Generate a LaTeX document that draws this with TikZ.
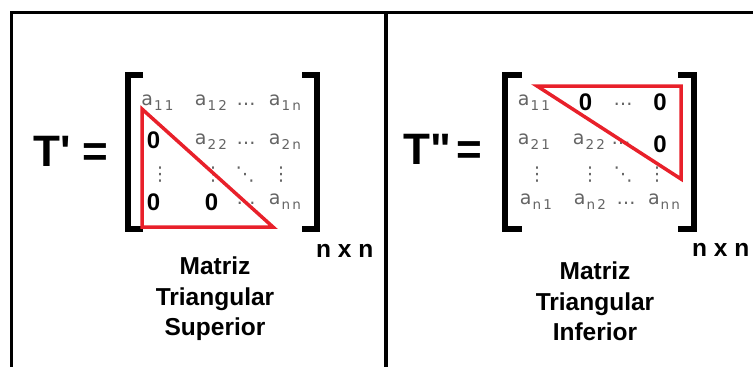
\documentclass[tikz,border=0pt]{standalone}
\usepackage{fontspec}
\usepackage{xcolor}
\usetikzlibrary{positioning}
\newfontfamily\headfont{Liberation Sans}[Ligatures=TeXOff]
\newfontfamily\entfont{DejaVu Sans}
\definecolor{TriRed}{HTML}{E8202A}
\definecolor{EntGray}{HTML}{646464}
\newcommand{\ent}[1]{a\kern1pt\raisebox{-5pt}{\fontsize{13.5}{13.5}\selectfont#1}}

\begin{document}
\begin{tikzpicture}[x=1pt,y=-1pt,
  head/.style={font=\headfont\bfseries\fontsize{44}{44}\selectfont,inner sep=0,anchor=base west},
  desc/.style={font=\headfont\bfseries\fontsize{24.5}{30.5}\selectfont,inner sep=0,align=center},
  size/.style={font=\headfont\bfseries\fontsize{24.5}{24.5}\selectfont,inner sep=0,anchor=base west},
  entry/.style={font=\entfont\fontsize{19}{19}\selectfont,text=EntGray,inner sep=0,anchor=base},
  zero/.style={font=\headfont\bfseries\fontsize{24}{24}\selectfont,inner sep=0,anchor=base},
  bracket/.style={line width=5.5pt},
  tri/.style={draw=TriRed,line width=3.5pt}]
\useasboundingbox (0,0) rectangle (753,367);

% frame
\draw[line width=3.5pt] (11.5,367) -- (11.5,12.5) -- (753,12.5);
\draw[line width=3.5pt] (386,12.5) -- (386,367);

% left panel: upper triangular
\node[head] (Tsup) at (33,166) {T' =};
\draw[bracket] (143,75) -- (128,75) -- (128,229) -- (143,229);
\draw[bracket] (302,75) -- (317,75) -- (317,229) -- (302,229);
\foreach \x/\y/\t [count=\i] in {157.5/105/\ent{1\,1},211/105/\ent{1\,2},246/105/…,285/105/\ent{1\,n},
  211/144/\ent{2\,2},246/144/…,285/144/\ent{2\,n},
  160/180/⋮,213/180/⋮,245/180/⋱,281/180/⋮,
  246/204/…,285/204/\ent{n\,n}}{
\node[entry] (sup\i) at (\x,\y) {\t};
}
\foreach \x/\y [count=\i] in {153.5/148,153.5/210,211.5/210}{
\node[zero] (supz\i) at (\x,\y) {0};
}
\draw[tri] (142,109) -- (142,227) -- (273,227) -- cycle;
\node[size] (nsup) at (316,257) {n x n};
\node[desc,anchor=north] (capsup) at (215,257) {Matriz\\Triangular\\Superior};

% right panel: lower triangular
\node[head] (Tinf) at (403,164) {T"\kern6pt=};
\draw[bracket] (522,75) -- (505,75) -- (505,229) -- (522,229);
\draw[bracket] (678,75) -- (694,75) -- (694,229) -- (678,229);
\foreach \x/\y/\t [count=\i] in {534/105/\ent{1\,1},623/105/…,
  534/144/\ent{2\,1},589/144/\ent{2\,2},621/144/…,
  537/180/⋮,590/180/⋮,623/180/⋱,657/180/⋮,
  536/204/\ent{n\,1},590/204/\ent{n\,2},626/204/…,664/204/\ent{n\,n}}{
\node[entry] (inf\i) at (\x,\y) {\t};
}
\foreach \x/\y [count=\i] in {585.5/110,660/110,660/152}{
\node[zero] (infz\i) at (\x,\y) {0};
}
\draw[tri] (537,86) -- (681,86) -- (681,179) -- cycle;
\node[size] (ninf) at (692,256) {n x n};
\node[desc,anchor=north] (capinf) at (595,262) {Matriz\\Triangular\\Inferior};
\end{tikzpicture}
\end{document}
